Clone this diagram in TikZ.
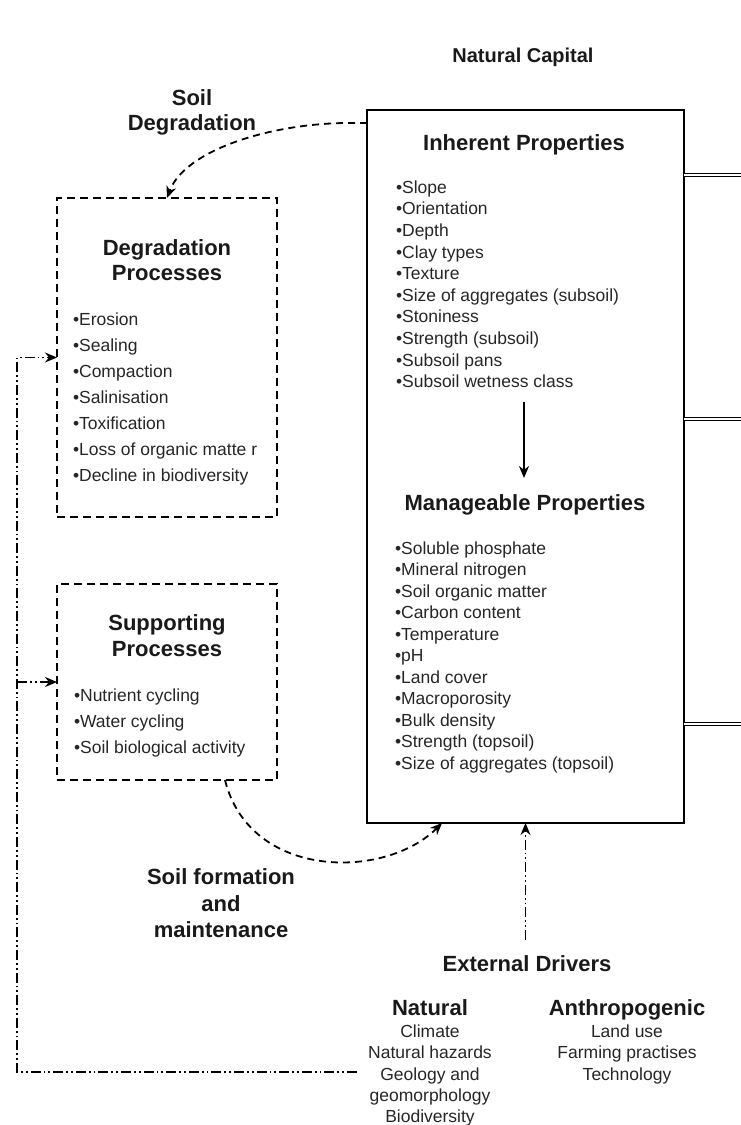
\documentclass[tikz,border=0pt]{standalone}
\usepackage{fontspec}
\setmainfont{Liberation Sans}
\usetikzlibrary{arrows.meta,calc}
\begin{document}
\begin{tikzpicture}[x=1pt,y=-1pt,
  ttl/.style={font=\fontsize{22}{25}\selectfont\bfseries, inner sep=0, outer sep=0, align=center, text=black!90},
  itm/.style={font=\fontsize{17.5}{21}\selectfont, inner sep=0, outer sep=0, anchor=base west, text=black!85},
  itc/.style={itm, anchor=base},
  solidbox/.style={draw, line width=2pt, inner sep=0, outer sep=0},
  dashbox/.style={draw, line width=2pt, dash pattern=on 8pt off 5pt, inner sep=0, outer sep=0},
  tip/.style={-{Stealth[length=12pt,width=10pt]}},
  dcon/.style={tip, line width=1.8pt, dash pattern=on 7pt off 5pt},
  ddcon/.style={tip, line width=1.6pt, dash pattern=on 10pt off 3pt on 1.8pt off 3pt on 1.8pt off 3pt},
  dbl/.style={double, double distance=2pt, line width=0.9pt}
]
\useasboundingbox (0,0) rectangle (741,1125);

% boxes
\node[solidbox, minimum width=317pt, minimum height=713pt, anchor=north west] (main) at (367,110) {};
\node[dashbox, minimum width=220pt, minimum height=319pt, anchor=north west] (deg) at (57,198) {};
\node[dashbox, minimum width=220pt, minimum height=196pt, anchor=north west] (sup) at (57,584) {};

% titles
\node[ttl, font=\fontsize{20}{24}\selectfont\bfseries] (natcap) at (523,57) {Natural Capital};
\node[ttl] (soildeg) at (192,112) {Soil\\Degradation};
\node[ttl, anchor=base] (inh) at (524,150) {Inherent Properties};
\node[ttl, anchor=base] (man) at (525,510) {Manageable Properties};
\node[ttl] (degt) at (167,260.5) {Degradation\\Processes};
\node[ttl, font=\fontsize{22}{26}\selectfont\bfseries] (supt) at (167,636) {Supporting\\Processes};
\node[ttl, font=\fontsize{22}{26.5}\selectfont\bfseries] (sform) at (221,903.5) {Soil formation\\and\\maintenance};
\node[ttl, anchor=base] (extd) at (527,971) {External Drivers};
\node[ttl, anchor=base] (natt) at (430,1015) {Natural};
\node[ttl, anchor=base] (antt) at (627,1015) {Anthropogenic};

% lists
\foreach \t [count=\i] in {Slope,Orientation,Depth,Clay types,Texture,Size of aggregates (subsoil),Stoniness,Strength (subsoil),Subsoil pans,Subsoil wetness class}
  \node[itm] (inh\i) at (396,{193.3+21.6*(\i-1)}) {•\t};
\foreach \t [count=\i] in {Soluble phosphate,Mineral nitrogen,Soil organic matter,Carbon content,Temperature,pH,Land cover,Macroporosity,Bulk density,Strength (topsoil),Size of aggregates (topsoil)}
  \node[itm] (man\i) at (395,{554.3+21.5*(\i-1)}) {•\t};
\foreach \t [count=\i] in {Erosion,Sealing,Compaction,Salinisation,Toxification,Loss of organic matte r,Decline in biodiversity}
  \node[itm] (deg\i) at (73,{325.3+26*(\i-1)}) {•\t};
\foreach \t [count=\i] in {Nutrient cycling,Water cycling,Soil biological activity}
  \node[itm] (sup\i) at (74,{701.3+26*(\i-1)}) {•\t};
\foreach \t [count=\i] in {Climate,Natural hazards,Geology and,geomorphology,Biodiversity}
  \node[itc] (nat\i) at (430,{1037.3+21.4*(\i-1)}) {\t};
\foreach \t [count=\i] in {Land use,Farming practises,Technology}
  \node[itc] (ant\i) at (627,{1037.3+21.5*(\i-1)}) {\t};

% coordinates
\coordinate (sdstart) at (367,123);
\coordinate (sfstart) at (225,780);
\coordinate (sfend) at (442,823);
\coordinate (ia) at (524,402);
\coordinate (ib) at (524,478);
\coordinate (exs) at (525.5,940);
\coordinate (natend) at (357,1072);
\coordinate (c1) at (17,1072);
\coordinate (c2) at (17,357.5);
\coordinate (r1) at (741,175);
\coordinate (r2) at (741,419);
\coordinate (r3) at (741,724);

% connectors
\draw[dcon] (sdstart) -- (345,123) .. controls (270,124) and (185,150) .. (deg.north);
\draw[dcon] (sfstart) .. controls (250,880) and (385,880) .. (sfend);
\draw[tip, line width=1.8pt] (ia) -- (ib);
\draw[ddcon] (exs) -- (main.south);
\draw[ddcon] (natend) -- (c1) -- (c2) -- (deg.west);
\draw[ddcon] (c1 |- sup.west) -- (sup.west);

\draw[dbl] (main.east |- r1) -- (r1);
\draw[dbl] (main.east |- r2) -- (r2);
\draw[dbl] (main.east |- r3) -- (r3);
\end{tikzpicture}
\end{document}
